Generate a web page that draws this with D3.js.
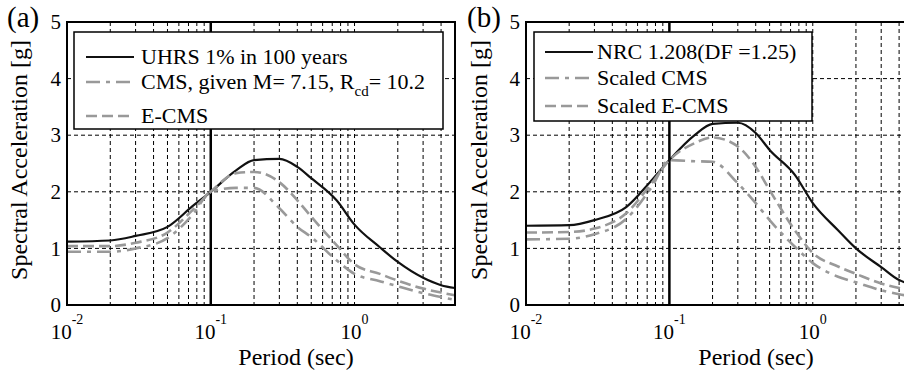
<!DOCTYPE html>
<html>
<head>
<meta charset="utf-8">
<script src="https://cdn.jsdelivr.net/npm/d3@7"></script>
<style>
  body { margin: 0; background: #fff; }
  svg text { font-family: 'Liberation Serif', 'Times New Roman', Times, 'DejaVu Serif', serif; }
</style>
</head>
<body>
<svg id="chart" width="904" height="374"></svg>
<script>
// periods (sec) shared by every spectrum
const periods = [0.01, 0.02, 0.03, 0.05, 0.075, 0.1, 0.15, 0.2, 0.3, 0.4, 0.5, 0.75, 1, 1.5, 2, 3, 4, 5];

// panel (a)
const uhrs  = [1.12, 1.14, 1.22, 1.38, 1.75, 2.0, 2.38, 2.56, 2.58, 2.44, 2.24, 1.85, 1.42, 1.02, 0.76, 0.48, 0.35, 0.30];
const cmsA  = [0.94, 0.94, 1.00, 1.18, 1.60, 2.0, 2.07, 2.07, 1.71, 1.38, 1.20, 0.79, 0.55, 0.42, 0.33, 0.21, 0.14, 0.09];
const ecmsA = [1.04, 1.04, 1.10, 1.28, 1.68, 2.0, 2.33, 2.35, 2.17, 1.85, 1.56, 1.06, 0.72, 0.55, 0.43, 0.29, 0.22, 0.17];

// panel (b)
const nrc   = [1.40, 1.41, 1.50, 1.73, 2.20, 2.56, 3.00, 3.20, 3.22, 3.04, 2.74, 2.30, 1.80, 1.32, 1.00, 0.67, 0.44, 0.36];
const cmsB  = [1.16, 1.17, 1.25, 1.52, 2.08, 2.56, 2.54, 2.53, 2.15, 1.80, 1.50, 1.03, 0.74, 0.50, 0.40, 0.26, 0.19, 0.15];
const ecmsB = [1.28, 1.29, 1.35, 1.62, 2.15, 2.56, 2.86, 2.96, 2.80, 2.44, 2.03, 1.32, 0.92, 0.68, 0.55, 0.38, 0.30, 0.25];

const yTicks = [0, 1, 2, 3, 4, 5];
const xMajor = [0.01, 0.1, 1];
const xExp = ['-2', '-1', '0'];
const conditioningT = 0.1;

const legendA = [
  [{ t: 'UHRS 1% in 100 years' }],
  [{ t: 'CMS, given M= 7.15, R' }, { t: 'cd', sub: true }, { t: '= 10.2', after: true }],
  [{ t: 'E-CMS' }]
];
const legendB = [
  [{ t: 'NRC 1.208(DF =1.25)' }],
  [{ t: 'Scaled CMS' }],
  [{ t: 'Scaled E-CMS' }]
];

const styles = [
  { stroke: '#111', width: 2.2, dash: null },
  { stroke: '#999', width: 2.6, dash: '14,6,4,6' },
  { stroke: '#999', width: 2.6, dash: '11,5' }
];

const svg = d3.select('#chart');

function drawPanel(p) {
  const x = d3.scaleLog().domain([0.01, 5]).range([p.left, p.right]);
  const y = d3.scaleLinear().domain([0, 5]).range([p.bottom, p.top]);
  const g = svg.append('g');

  /* ---------- grid ---------- */
  const minor = [];
  xMajor.forEach(d => d3.range(1, 10).forEach(m => {
    const v = +(d * m).toPrecision(3);
    if (v > 0.01 && v <= 5) minor.push(v);
  }));
  g.selectAll('.vgrid').data(minor).enter().append('line')
    .attr('x1', d => x(d)).attr('x2', d => x(d))
    .attr('y1', p.top).attr('y2', p.bottom)
    .attr('stroke', '#000').attr('stroke-width', 1).attr('stroke-dasharray', '4,3');
  g.selectAll('.hgrid').data(yTicks.slice(1, -1)).enter().append('line')
    .attr('x1', p.left).attr('x2', p.right)
    .attr('y1', d => y(d)).attr('y2', d => y(d))
    .attr('stroke', '#000').attr('stroke-width', 1).attr('stroke-dasharray', '4,3');

  /* ---------- conditioning period line ---------- */
  g.append('line')
    .attr('x1', x(conditioningT)).attr('x2', x(conditioningT))
    .attr('y1', p.top).attr('y2', p.bottom)
    .attr('stroke', '#000').attr('stroke-width', 2.5);

  /* ---------- curves ---------- */
  const clipId = 'clip' + p.tag;
  svg.append('clipPath').attr('id', clipId).append('rect')
    .attr('x', p.left).attr('y', p.top)
    .attr('width', p.right - p.left).attr('height', p.bottom - p.top);
  const line = d3.line().x(d => x(d[0])).y(d => y(d[1])).curve(d3.curveMonotoneX);
  p.series.forEach((s, i) => {
    g.append('path')
      .attr('clip-path', 'url(#' + clipId + ')')
      .attr('d', line(periods.map((t, k) => [t, s[k]])))
      .attr('fill', 'none')
      .attr('stroke', styles[i].stroke)
      .attr('stroke-width', styles[i].width)
      .attr('stroke-dasharray', styles[i].dash);
  });

  /* ---------- box ---------- */
  g.append('rect')
    .attr('x', p.left).attr('y', p.top)
    .attr('width', p.right - p.left).attr('height', p.bottom - p.top)
    .attr('fill', 'none').attr('stroke', '#000').attr('stroke-width', 2);

  /* ---------- y ticks ---------- */
  g.selectAll('.ytick').data(yTicks).enter().append('text')
    .attr('x', p.left - 6).attr('y', d => y(d)).attr('dy', '0.34em')
    .attr('text-anchor', 'end').attr('font-size', 21).text(d => d);

  /* ---------- x ticks (10^n) ---------- */
  xMajor.forEach((d, i) => {
    const t = g.append('text')
      .attr('x', x(d)).attr('y', 339)
      .attr('text-anchor', 'middle').attr('font-size', 21);
    t.append('tspan').text('10');
    t.append('tspan').attr('dy', -15).attr('font-size', 14).text(xExp[i]);
  });

  /* ---------- axis labels ---------- */
  g.append('text').attr('x', p.xLabelX).attr('y', 365)
    .attr('text-anchor', 'middle').attr('font-size', 24).text('Period (sec)');
  g.append('text')
    .attr('transform', 'translate(' + p.yLabelX + ',160) rotate(-90)')
    .attr('text-anchor', 'middle').attr('font-size', 24).text('Spectral Acceleration [g]');
  g.append('text').attr('x', p.tagX).attr('y', 27)
    .attr('font-size', 29).text('(' + p.tag + ')');

  /* ---------- legend ---------- */
  const L = p.legend;
  g.append('rect')
    .attr('x', L.x).attr('y', L.y).attr('width', L.w).attr('height', L.h)
    .attr('fill', '#fff').attr('stroke', '#000').attr('stroke-width', 1.5);
  p.labels.forEach((parts, i) => {
    const ry = L.rows[i];
    g.append('line')
      .attr('x1', L.sx1).attr('x2', L.sx2).attr('y1', ry).attr('y2', ry)
      .attr('stroke', styles[i].stroke).attr('stroke-width', styles[i].width)
      .attr('stroke-dasharray', styles[i].dash);
    const t = g.append('text').attr('x', L.tx).attr('y', ry).attr('dy', '0.33em')
      .attr('font-size', 22);
    parts.forEach(part => {
      const ts = t.append('tspan').text(part.t);
      if (part.sub) ts.attr('dy', 7).attr('font-size', 15);
      if (part.after) ts.attr('dy', -7);
    });
  });
}

drawPanel({
  tag: 'a', left: 67, right: 455, top: 22, bottom: 305,
  tagX: 7, yLabelX: 27, xLabelX: 296,
  series: [uhrs, cmsA, ecmsA], labels: legendA,
  legend: { x: 74, y: 32, w: 369, h: 97, rows: [57, 82, 116], sx1: 86, sx2: 134, tx: 141 }
});
drawPanel({
  tag: 'b', left: 526, right: 913, top: 22, bottom: 305,
  tagX: 467, yLabelX: 487, xLabelX: 756,
  series: [nrc, cmsB, ecmsB], labels: legendB,
  legend: { x: 534, y: 32, w: 278, h: 89, rows: [52, 78, 106], sx1: 545, sx2: 593, tx: 597 }
});
</script>
</body>
</html>
